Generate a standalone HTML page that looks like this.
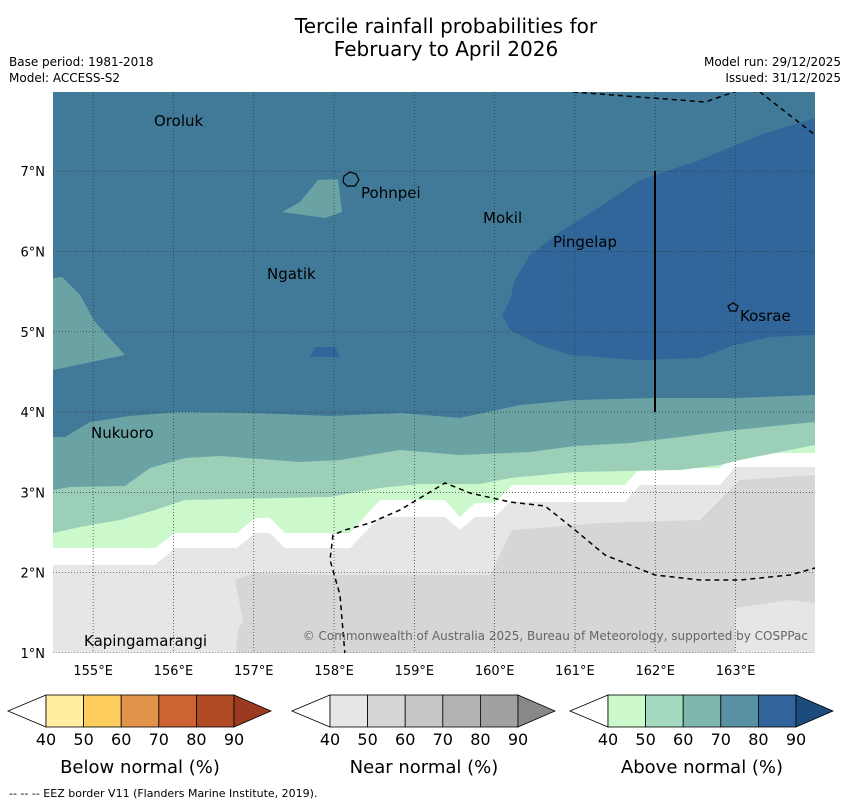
<!DOCTYPE html>
<html><head><meta charset="utf-8"><style>
body{margin:0;background:#fff;font-family:"DejaVu Sans","Liberation Sans",sans-serif}
svg{display:block}
</style></head><body>
<svg id="s" width="850" height="804" xmlns="http://www.w3.org/2000/svg" font-family="DejaVu Sans, Liberation Sans, sans-serif">
<text x="446" y="33" font-size="20" text-anchor="middle">Tercile rainfall probabilities for</text>
<text x="446" y="56" font-size="20" text-anchor="middle">February to April 2026</text>
<text x="9" y="66" font-size="12">Base period: 1981-2018</text>
<text x="9" y="82" font-size="12">Model: ACCESS-S2</text>
<text x="841" y="66" font-size="12" text-anchor="end">Model run: 29/12/2025</text>
<text x="841" y="82" font-size="12" text-anchor="end">Issued: 31/12/2025</text>
<defs><clipPath id="mc"><rect x="53" y="92" width="762" height="561"/></clipPath></defs>
<g id="map" clip-path="url(#mc)">
<rect x="53" y="92" width="762" height="561" fill="#d6d6d6"/>
<polygon fill="#e6e6e6" points="53,92 815,92 815,475 740,480 700,520 600,523 512,530 490,575 330,575 255,573 235,580 243,620 238,630 236,653 53,653"/>
<polygon fill="#e6e6e6" points="735,608 790,600 815,603 815,653 735,653"/>
<polygon fill="#fff" points="53,92 815,92 815,467 735,467 720,485 640,485 625,502 510,502 495,517 475,517 460,530 445,517 380,517 350,548 285,548 270,533 255,533 237,548 175,548 155,565 53,565"/>
<polygon fill="#ccf9cc" points="53,92 815,92 815,453 735,453 720,468 640,468 625,485 512,485 495,503 475,503 460,517 445,500 380,500 350,533 285,533 270,518 255,518 237,533 175,533 155,548 53,548"/>
<polygon fill="#9ccfb8" points="53,92 815,92 815,445 740,460 720,465 680,470 575,472 510,478 480,484 420,484 380,488 330,497 185,500 155,510 120,520 80,527 53,533"/>
<polygon fill="#6ba3a5" points="53,92 815,92 815,422 735,430 680,437 630,443 575,446 530,452 460,455 400,450 340,460 300,462 220,456 185,458 150,468 125,486 70,487 53,490"/>
<polygon fill="#417a98" points="53,92 815,92 815,395 735,398 655,398 575,400 520,405 460,418 400,413 330,416 250,413 180,412 130,416 90,422 65,437 53,437"/>
<polygon fill="#6ba3a5" points="53,278 62,277 80,295 95,322 125,355 53,370"/>
<polygon fill="#6ba3a5" points="282,212 300,202 318,180 338,179 342,212 325,218"/>
<polygon fill="#30669a" points="315,347 335,347 340,357 310,357"/>
<polygon fill="#30669a" points="815,118 760,135 700,160 640,180 595,210 560,232 530,255 515,280 510,300 502,315 510,330 540,345 570,355 640,360 700,358 735,345 770,337 815,335"/>
<g id="grid" stroke="#333" stroke-width="0.7" stroke-dasharray="1,2" fill="none"></g>
<polyline fill="none" stroke="#000" stroke-width="1.5" stroke-dasharray="5,4" points="573,92 705,102 740,90 760,92 815,135"/>
<polyline fill="none" stroke="#000" stroke-width="1.5" stroke-dasharray="5,4" points="345,655 340,595 330,560 333,535 345,530 370,523 400,510 445,483 470,493 510,502 545,506 575,530 605,555 655,575 700,580 740,580 790,575 815,568"/>
<line x1="655" y1="171" x2="655" y2="412" stroke="#000" stroke-width="2"/>
<path d="M344,176 l6,-4 6,2 3,6 -4,6 -8,0 -4,-4z" fill="none" stroke="#000" stroke-width="1.2"/>
<path d="M728,306 l5,-3 5,3 -2,5 -6,0z" fill="none" stroke="#000" stroke-width="1.2"/>
<g font-size="15" fill="#000">
<text x="154" y="126">Oroluk</text>
<text x="361" y="198">Pohnpei</text>
<text x="483" y="223">Mokil</text>
<text x="553" y="247">Pingelap</text>
<text x="267" y="279">Ngatik</text>
<text x="740" y="321">Kosrae</text>
<text x="91" y="438">Nukuoro</text>
<text x="84" y="646">Kapingamarangi</text>
</g>
<text x="808" y="640" font-size="12" fill="#666" text-anchor="end">© Commonwealth of Australia 2025, Bureau of Meteorology, supported by COSPPac</text>
</g>
<g id="axes" font-size="13"></g>
<g id="cbars"></g>
<text x="9" y="797" font-size="11">--  --  -- EEZ border V11 (Flanders Marine Institute, 2019).</text>
</svg>
<script>
const lonTicks=[155,156,157,158,159,160,161,162,163];
const latTicks=[1,2,3,4,5,6,7];
const cbLabels=[40,50,60,70,80,90];
const cbTitles=["Below normal (%)","Near normal (%)","Above normal (%)"];
const belowColors=["#ffeda0","#fecc5c","#e1944a","#cd6232","#b04a25","#9a3a20"];
const nearColors=["#e6e6e6","#d6d6d6","#c6c6c6","#b3b3b3","#a0a0a0","#888888"];
const aboveColors=["#ccf9cc","#a3d9be","#80b6ad","#5990a3","#30649a","#1d4c7c"];
const NS="http://www.w3.org/2000/svg";
const xS=lon=>53+(lon-154.5)*80.3;
const yS=lat=>653-(lat-1)*80.3;
const grid=document.getElementById('grid'),axes=document.getElementById('axes');
function mk(t,a,p){const e=document.createElementNS(NS,t);for(const k in a)e.setAttribute(k,a[k]);p.appendChild(e);return e;}
lonTicks.forEach(l=>{
 const g=mk('line',{x1:xS(l),x2:xS(l),y1:92,y2:653},grid);
 
 
 const t=mk('text',{x:xS(l),y:675,'text-anchor':'middle'},axes);t.textContent=l+'°E';
 
 
});
latTicks.forEach(l=>{
 const g=mk('line',{x1:53,x2:815,y1:yS(l),y2:yS(l)},grid);
 
 
 const t=mk('text',{x:45,y:yS(l)+5,'text-anchor':'end'},axes);t.textContent=l+'°N';
 
 
});
const cb=document.getElementById('cbars');
const sets=[[8,belowColors],[292,nearColors],[570,aboveColors]];
sets.forEach(([x0,cols],i)=>{
 const g=mk('g',{},cb);
 
 
 const bx=x0+38,w=37.6,y0=695,h=32;
 const lt=mk('polygon',{points:`${x0},${y0+h/2} ${bx},${y0} ${bx},${y0+h}`,fill:'#fff',stroke:'#000','stroke-width':0.8},g);
 
 
 for(let k=0;k<5;k++){
  const r=mk('rect',{x:bx+k*w,y:y0,width:w,height:h,fill:cols[k],stroke:'#000','stroke-width':0.8},g);
  
  
 }
 const ex=bx+5*w;
 const rt=mk('polygon',{points:`${ex},${y0} ${ex+37},${y0+h/2} ${ex},${y0+h}`,fill:cols[5],stroke:'#000','stroke-width':0.8},g);
 
 
 cbLabels.forEach((v,k)=>{
  const t=mk('text',{x:bx+k*w,y:745,'font-size':16,'text-anchor':'middle'},g);t.textContent=v;
  
  
 });
 const tt=mk('text',{x:bx+2.5*w,y:773,'font-size':18,'text-anchor':'middle'},g);tt.textContent=cbTitles[i];
 
 
});
</script>
</body></html>
